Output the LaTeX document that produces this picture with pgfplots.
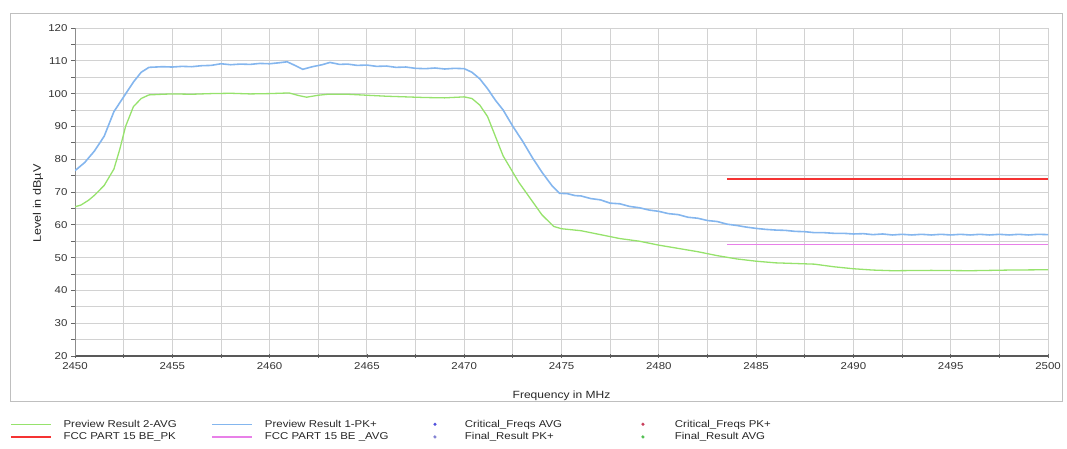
\documentclass[border=0pt]{standalone}
\usepackage{fontspec}
\setmainfont[FakeStretch=1.15]{Liberation Sans}
\usepackage{pgfplots}
\pgfplotsset{compat=1.18}
\definecolor{avgg}{RGB}{150,226,108}
\definecolor{pkb}{RGB}{132,182,238}
\definecolor{limred}{RGB}{245,50,50}
\definecolor{limmag}{RGB}{232,128,232}
\definecolor{critavg}{RGB}{80,80,220}
\definecolor{critpk}{RGB}{200,60,90}
\definecolor{finpk}{RGB}{128,128,210}
\definecolor{finavg}{RGB}{80,190,80}
\definecolor{gridc}{RGB}{210,210,210}
\begin{document}
\begin{tikzpicture}
\useasboundingbox (0bp,0bp) rectangle (1067bp,449bp);
\draw[gray!50, line width=0.8bp] (10bp,48bp) rectangle (1062bp,436bp);
\begin{axis}[
  at={(75bp,93bp)}, anchor=south west,
  scale only axis, width=973bp, height=328bp,
  xmin=2450, xmax=2500, ymin=20, ymax=120,
  axis x line*=bottom, axis y line*=left,
  x axis line style={-, draw=black!65, line width=1.2bp},
  y axis line style={-, draw=black!45, line width=0.8bp},
  xtick={2450,2455,...,2500},
  minor xtick={2452.5,2457.5,...,2497.5},
  ytick={20,30,...,120},
  minor ytick={25,35,...,115},
  grid=both,
  major grid style={draw=gridc, line width=0.9bp},
  minor grid style={draw=gridc, line width=0.9bp},
  xtick align=center, ytick align=outside,
  major tick length=4bp, minor tick length=4bp,
  tick style={draw=black!60, line width=0.8bp},
  /pgf/number format/assume math mode=true,
  /pgf/number format/1000 sep={},
  ticklabel style={font=\fontsize{10}{12}\selectfont, text=black!80},
  xticklabel style={yshift=-1bp},
  xlabel={Frequency in MHz},
  ylabel={Level in dBµV},
  xlabel style={font=\fontsize{10.5}{12}\selectfont, text=black!85, at={(axis description cs:0.5,-0.122)}, anchor=center},
  ylabel style={font=\fontsize{11}{12}\selectfont, text=black!85, at={(axis description cs:-0.038,0.465)}, anchor=center, rotate=0},
  legend columns=4,
  legend cell align=left,
  legend style={at={(-0.0668,-0.188)}, anchor=north west, draw=none, fill=none,
    inner sep=0pt, column sep=0pt, row sep=0pt,
    font=\fontsize{10}{10}\selectfont, text=black!85,
    /tikz/every odd column/.append style={column sep=10bp}},
]
\addplot[avgg, line width=1.3bp, legend image code/.code={\draw[avgg, line width=1.4bp] (0bp,0bp) -- (40bp,0bp);}] coordinates {
(2450,65.5) (2450.3,66) (2450.7,67.5) (2451,69) (2451.5,72) (2452,77) (2452.3,83)
(2452.6,90) (2453,96) (2453.4,98.5) (2453.8,99.6) (2454.5,99.8) (2455,99.9) (2456,99.8)
(2457,100) (2458,100.1) (2459,99.9) (2460,100) (2461,100.2) (2461.5,99.4) (2461.9,98.9)
(2462.5,99.5) (2463,99.8) (2464,99.8) (2465,99.5) (2466,99.2) (2467,99) (2468,98.8)
(2469,98.7) (2470,99) (2470.4,98.5) (2470.8,96.5) (2471.2,93) (2471.6,87) (2472,81)
(2472.4,77) (2472.8,73) (2473.4,68) (2474,63) (2474.6,59.5) (2475,58.8) (2476,58.2)
(2477,57) (2478,55.8) (2479,55) (2480,53.8) (2481,52.8) (2482,51.8) (2483,50.6)
(2484,49.6) (2485,48.9) (2486,48.4) (2487,48.2) (2488,48) (2489,47.2) (2490,46.6)
(2491,46.2) (2492,46) (2494,46.1) (2496,46) (2498,46.2) (2500,46.3)
};
\addlegendentry{\makebox[146bp][l]{Preview Result 2-AVG}}
\addplot[pkb, line width=1.6bp, legend image code/.code={\draw[pkb, line width=1.4bp] (0bp,0bp) -- (40bp,0bp);}] coordinates {
(2450,76.5) (2450.5,79) (2451,82.5) (2451.5,87) (2452,94.5) (2452.5,99) (2453,103.5)
(2453.4,106.5) (2453.8,108) (2454.5,108.2) (2455,108.1) (2455.5,108.3) (2456,108.2)
(2456.5,108.5) (2457,108.6) (2457.5,109.1) (2458,108.8) (2458.5,109) (2459,108.9)
(2459.5,109.2) (2460,109.1) (2460.5,109.4) (2460.9,109.7) (2461.3,108.6) (2461.7,107.4)
(2462.2,108.2) (2462.7,108.8) (2463.1,109.5) (2463.6,108.9) (2464,109) (2464.5,108.6)
(2465,108.7) (2465.5,108.3) (2466,108.4) (2466.5,108) (2467,108.1) (2467.5,107.7)
(2468,107.6) (2468.5,107.8) (2469,107.5) (2469.5,107.7) (2470,107.6) (2470.4,106.5)
(2470.8,104.5) (2471.2,101.5) (2471.6,98) (2472,95) (2472.5,90) (2473,85.5) (2473.5,80.5)
(2474,76) (2474.5,72) (2474.9,69.6) (2475.3,69.5) (2475.7,68.9) (2476,68.8) (2476.5,68.0)
(2477,67.6) (2477.5,66.6) (2478,66.4) (2478.5,65.6) (2479,65.2) (2479.5,64.5) (2480,64.1)
(2480.5,63.4) (2481,63.1) (2481.5,62.3) (2482,62.0) (2482.5,61.3) (2483,61.0) (2483.5,60.2)
(2484,59.8) (2484.5,59.3) (2485,58.9) (2485.5,58.6) (2486,58.4) (2486.5,58.3) (2487,58.0)
(2487.5,57.9) (2488,57.6) (2488.5,57.6) (2489,57.4) (2489.5,57.4) (2490,57.2) (2490.5,57.3)
(2491,57.0) (2491.5,57.2) (2492,56.9) (2492.5,57.1) (2493,56.9) (2493.5,57.1) (2494,56.9)
(2494.5,57.1) (2495,56.9) (2495.5,57.1) (2496,56.9) (2496.5,57.1) (2497,56.9) (2497.5,57.1)
(2498,56.9) (2498.5,57.1) (2499,56.9) (2499.5,57.1) (2500,57.0)
};
\addlegendentry{\makebox[146bp][l]{Preview Result 1-PK+}}
\addlegendimage{legend image code/.code={\path[draw=none] (0bp,0bp) -- (40bp,0bp); \fill[critavg] (22bp,0bp) circle (1.4bp);}}
\addlegendentry{\makebox[156bp][l]{Critical\_Freqs AVG}}
\addlegendimage{legend image code/.code={\path[draw=none] (0bp,0bp) -- (40bp,0bp); \fill[critpk] (20bp,0bp) circle (1.4bp);}}
\addlegendentry{Critical\_Freqs PK+}
\addplot[limred, line width=1.4bp, legend image code/.code={\draw[limred, line width=1.4bp] (0bp,0bp) -- (40bp,0bp);}] coordinates {(2483.5,74) (2500,74)};
\addlegendentry{FCC PART 15 BE\_PK}
\addplot[limmag, line width=1.4bp, legend image code/.code={\draw[limmag, line width=1.4bp] (0bp,0bp) -- (40bp,0bp);}] coordinates {(2483.5,54) (2500,54)};
\addlegendentry{FCC PART 15 BE \_AVG}
\addlegendimage{legend image code/.code={\path[draw=none] (0bp,0bp) -- (40bp,0bp); \fill[finpk] (22bp,0bp) circle (1.4bp);}}
\addlegendentry{Final\_Result PK+}
\addlegendimage{legend image code/.code={\path[draw=none] (0bp,0bp) -- (40bp,0bp); \fill[finavg] (20bp,0bp) circle (1.4bp);}}
\addlegendentry{Final\_Result AVG}
\end{axis}
\end{tikzpicture}
\end{document}
